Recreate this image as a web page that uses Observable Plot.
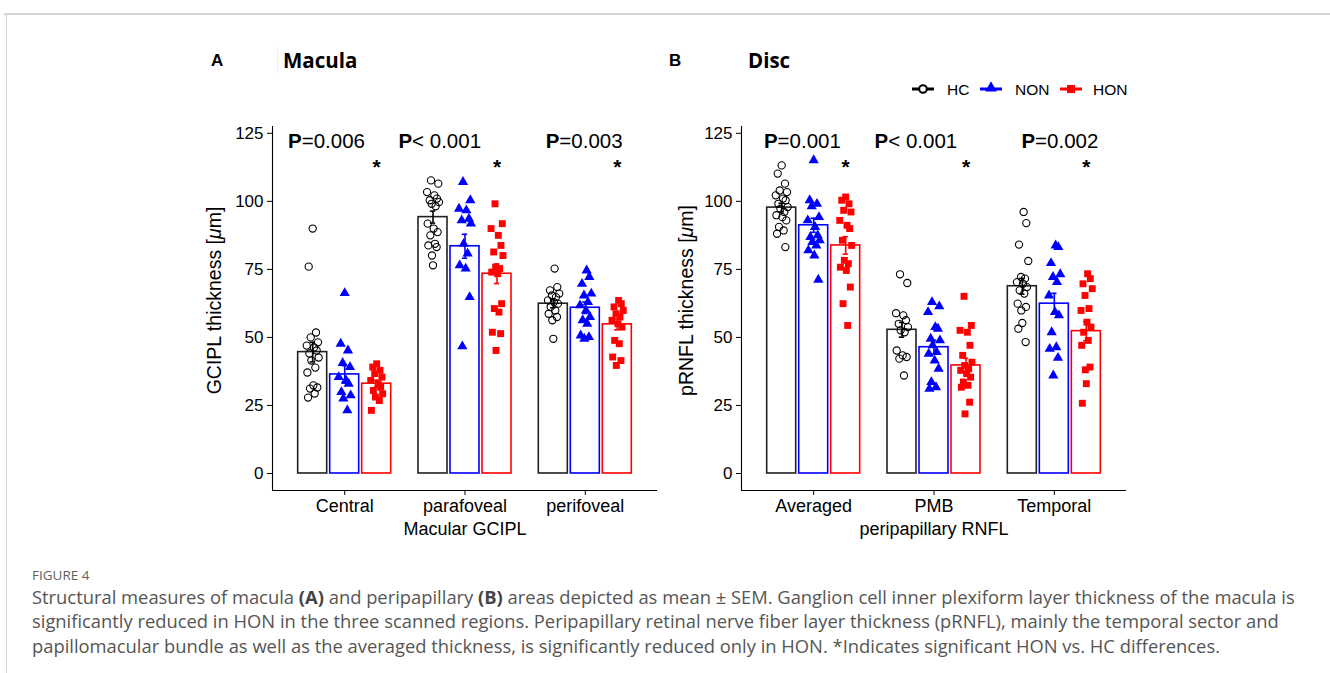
<!DOCTYPE html>
<html><head><meta charset="utf-8">
<script src="https://cdn.jsdelivr.net/npm/d3@7"></script>
<script src="https://cdn.jsdelivr.net/npm/@observablehq/plot@0.6"></script>
<style>
body{margin:0;background:#fff;width:1330px;height:673px;position:relative;overflow:hidden;font-family:"Liberation Sans",Arial,sans-serif;}
.abs{position:absolute;white-space:nowrap;}
#topline{left:4px;top:13px;width:1326px;height:2px;background:#d4d4d4;}
#leftline{left:6px;top:14px;width:1px;height:660px;background:#d4d4d4;}
.letter{font-family:"Liberation Sans",Arial,sans-serif;font-weight:bold;font-size:17px;line-height:20px;color:#000;}
.ptitle{font-family:"Open Sans",sans-serif;font-weight:bold;font-size:20.5px;line-height:24px;color:#000;}
.figlab{font-family:"Open Sans",sans-serif;font-size:13.5px;line-height:16px;color:#5f5f5f;}
.cap{font-family:"Open Sans",sans-serif;font-size:16px;line-height:20px;color:#555;}
.cap b{color:#444;}
</style></head>
<body>
<div id="topline" class="abs"></div>
<div id="leftline" class="abs"></div>
<div class="abs letter" style="left:211px;top:51px;">A</div>
<div class="abs" style="left:277px;top:47px;width:1px;height:26px;background:#eee;"></div>
<div class="abs ptitle" style="left:283px;top:48px;">Macula</div>
<div class="abs letter" style="left:669px;top:51px;">B</div>
<div class="abs ptitle" style="left:748px;top:48px;">Disc</div>
<div id="panelA" class="abs" style="left:190px;top:100px;"></div>
<div id="panelB" class="abs" style="left:659px;top:100px;"></div>
<div id="legend" class="abs" style="left:900px;top:77px;"></div>
<div class="abs figlab" style="left:32px;top:567px;">FIGURE 4</div>
<div id="cap1" class="abs cap" style="left:32px;top:587px;">Structural measures of macula <b>(A)</b> and peripapillary <b>(B)</b> areas depicted as mean ± SEM. Ganglion cell inner plexiform layer thickness of the macula is</div>
<div id="cap2" class="abs cap" style="left:32px;top:611px;">significantly reduced in HON in the three scanned regions. Peripapillary retinal nerve fiber layer thickness (pRNFL), mainly the temporal sector and</div>
<div id="cap3" class="abs cap" style="left:32px;top:636px;">papillomacular bundle as well as the averaged thickness, is significantly reduced only in HON. *Indicates significant HON vs. HC differences.</div>
<script>
// ---------- data ----------
const groups = ["HC", "NON", "HON"];
const categoriesA = ["Central", "parafoveal", "perifoveal"];
const categoriesB = ["Averaged", "PMB", "Temporal"];
const yTicks = [0, 25, 50, 75, 100, 125];

// means (per category) for each group
const meanA_HC  = [44.6, 94.2, 62.4];
const meanA_NON = [36.4, 83.5, 60.9];
const meanA_HON = [33.0, 73.4, 54.8];
const meanB_HC  = [97.7, 52.8, 68.8];
const meanB_NON = [91.2, 46.4, 62.4];
const meanB_HON = [83.8, 39.7, 52.3];

// SEM
const semA_HC  = [3.6, 2.2, 1.5];
const semA_NON = [3.2, 4.4, 2.1];
const semA_HON = [1.3, 3.6, 2.0];
const semB_HC  = [1.6, 2.7, 2.9];
const semB_NON = [2.6, 2.6, 3.8];
const semB_HON = [3.2, 2.6, 3.5];

// individual points
const ptsA_HC = [
  [90, 76, 51.8, 50, 48.2, 47, 46.3, 45.2, 44.1, 42.6, 41.5, 38.9, 37.1, 32.4, 31.6, 31.2, 29.4, 27.9],
  [107.7, 106.5, 103.4, 102.2, 101, 100.4, 99.7, 99.1, 98.2, 91.8, 90, 88.7, 87.5, 84.4, 83.8, 83.2, 80.1, 76.5],
  [75.3, 68.5, 67.3, 66.1, 65.4, 64.8, 63.6, 63, 62.4, 61.2, 59.9, 58.7, 57.5, 56.3, 49.5]
];
const ptsA_NON = [
  [66.3, 47.7, 45.2, 40.6, 39.1, 35.4, 34.2, 33, 29.9, 28.7, 27.5, 23.2],
  [107.1, 100.4, 97.3, 96.7, 93.6, 93, 91.8, 84.4, 80.8, 76.5, 75.3, 64.8, 46.7],
  [74.6, 72.2, 69.7, 66.1, 65.4, 63, 61.8, 59.9, 57.5, 56.3, 55, 50.7, 50.1, 49.5]
];
const ptsA_HON = [
  [40.3, 39.1, 37.9, 36.7, 35.4, 34.2, 33, 31.7, 30.5, 29.3, 28.1, 26.8, 23.2],
  [99.1, 91.8, 90, 87.5, 83.8, 81.4, 80.1, 75.8, 75.3, 74, 73.4, 62.4, 60.6, 59.3, 51.9, 51.4, 45.2],
  [63.6, 62.4, 61.2, 59.9, 58.7, 57.5, 56.3, 55, 53.8, 48.9, 47.7, 42.8, 41.5, 39.7]
];
const ptsB_HC = [
  [113.2, 110.2, 106.5, 104, 103.4, 102.2, 101, 100.4, 99.1, 97.9, 97.3, 96.1, 94.9, 94.2, 93, 90.6, 89.3, 88.1, 83.2],
  [73.2, 70, 58.9, 58.1, 56.3, 55, 53.8, 52.6, 51.9, 45.2, 43.4, 42.8, 42.2, 36],
  [96.1, 92, 84.1, 78.1, 72.2, 71.6, 70.3, 69.7, 68.5, 67.3, 66.1, 62.4, 61.2, 59.9, 55.3, 53.2, 48.3]
];
const ptsB_NON = [
  [115.1, 100.4, 99.1, 98.2, 94.2, 93, 90.6, 87.5, 86.9, 85.7, 85, 83.8, 82, 80.1, 71.2],
  [63, 61.4, 59.3, 53.8, 53.2, 49.5, 48.9, 47.1, 44.6, 44, 41.5, 38.5, 33.6, 31.7, 31.1],
  [83.8, 83.2, 77.3, 73.2, 72.2, 70.3, 65.4, 59.3, 58.1, 51.9, 46.4, 45.8, 42.5, 36]
];
const ptsB_HON = [
  [101.6, 100.4, 99.1, 96.7, 96.1, 93, 91.2, 90, 85.7, 83.8, 78.3, 77.1, 75.8, 74.6, 68.5, 62.4, 54.4],
  [65.1, 54.4, 52.6, 51.9, 47.1, 43.4, 40.9, 39.7, 38.5, 37.9, 36.7, 35.4, 33.6, 32.4, 31.7, 26.2, 21.9],
  [73.4, 71.6, 69.7, 67.9, 65.4, 60.6, 59.9, 55.6, 53.8, 51.9, 48.9, 47.1, 39.1, 38.1, 33, 25.8]
];

// p-value labels
const pValA = ["=0.006", "< 0.001", "=0.003"];
const pValB = ["=0.001", "< 0.001", "=0.002"];

// ---------- presentation ----------
const COLORS = ["#000000", "#0000ff", "#ff0000"];
const BAR_STROKE = ["#222222", "#0000ff", "#ff0000"];
const XD = [-0.6, 2.6], YD = [-6.25, 127.5];
const GOFF = [-0.266, 0, 0.266], BW = 0.241;
const JIT = [0, -0.6, 0.5, -0.3, 0.8, -0.9, 0.2, 0.6, -0.5, 0.9, -0.2, 0.4, -0.8, 0.1, 0.7, -0.4, 0.3, -0.7, 0.55, -0.15];
const JW = 0.055;

function panel(cats, means, sems, pts, pVals, pOff, yLabel, xLabel, yLabOff) {
  const bars = [];
  cats.forEach((c, ci) => groups.forEach((g, gi) =>
    bars.push({ci, gi, g, mean: means[gi][ci], sem: sems[gi][ci], cx: ci + GOFF[gi]})));
  const marks = [];
  groups.forEach((g, gi) => {
    marks.push(Plot.rect(bars.filter(d => d.gi === gi), {
      x1: d => d.cx - BW / 2, x2: d => d.cx + BW / 2, y1: 0, y2: "mean",
      fill: "white", stroke: BAR_STROKE[gi], strokeWidth: 1.6
    }));
  });
  groups.forEach((g, gi) => {
    const rows = [];
    pts[gi].forEach((arr, ci) => arr.forEach((v, i) =>
      rows.push({x: ci + GOFF[gi] + JIT[(i + ci * 3) % JIT.length] * JW, y: v})));
    if (gi === 0) marks.push(Plot.dot(rows, {x: "x", y: "y", symbol: "circle", r: 3.6, stroke: "#000", strokeWidth: 1.1, fill: "none"}));
    if (gi === 1) marks.push(Plot.dot(rows, {x: "x", y: "y", symbol: "triangle", r: 3.8, fill: COLORS[1], stroke: "none"}));
    if (gi === 2) marks.push(Plot.dot(rows, {x: "x", y: "y", symbol: "square", r: 3.9, fill: COLORS[2], stroke: "none"}));
  });
  groups.forEach((g, gi) => {
    const b = bars.filter(d => d.gi === gi);
    marks.push(Plot.ruleX(b, {x: "cx", y1: d => d.mean - d.sem, y2: d => d.mean + d.sem, stroke: COLORS[gi], strokeWidth: 1.6}));
    marks.push(Plot.ruleY(b, {y: d => d.mean + d.sem, x1: d => d.cx - 0.022, x2: d => d.cx + 0.022, stroke: COLORS[gi], strokeWidth: 1.6}));
    marks.push(Plot.ruleY(b, {y: d => d.mean - d.sem, x1: d => d.cx - 0.022, x2: d => d.cx + 0.022, stroke: COLORS[gi], strokeWidth: 1.6}));
  });
  const pRows = cats.map((c, ci) => ({ci, rest: pVals[ci], x: ci + pOff[ci]}));
  marks.push(Plot.text(pRows, {x: "x", y: 122, text: () => "P", textAnchor: "end", fontWeight: "bold", fontSize: 20.5, fill: "#000"}));
  marks.push(Plot.text(pRows, {x: "x", y: 122, text: "rest", textAnchor: "start", fontSize: 20.5, fill: "#000"}));
  marks.push(Plot.text(pRows, {x: d => d.ci + GOFF[2], y: 112.5, text: () => "*", fontSize: 21, fontWeight: "bold", fill: "#000"}));
  marks.push(Plot.ruleX([XD[0]], {stroke: "#000", strokeWidth: 1.1}));
  marks.push(Plot.ruleY([YD[0]], {stroke: "#000", strokeWidth: 1.1}));
  marks.push(Plot.axisY({ticks: yTicks, tickSize: 5, tickPadding: 4, fontSize: 17, label: yLabel,
    labelAnchor: "center", labelArrow: false, labelOffset: yLabOff}));
  marks.push(Plot.axisX({ticks: [0, 1, 2], tickFormat: i => cats[i], tickSize: 5, tickPadding: 4, fontSize: 18,
    label: xLabel, labelAnchor: "center", labelArrow: false, labelOffset: 44}));
  const svg = Plot.plot({
    width: 480, height: 445, marginLeft: 82, marginRight: 13, marginTop: 26, marginBottom: 55,
    x: {domain: XD, axis: null}, y: {domain: YD, axis: null},
    style: {fontFamily: "'Liberation Sans', Arial, sans-serif", fontSize: "18px", color: "#000", background: "transparent", overflow: "visible"},
    marks
  });
  svg.querySelectorAll("text").forEach(t => {
    const s = t.textContent;
    if (s.includes("μ")) {
      const i = s.indexOf("μ");
      t.textContent = "";
      t.setAttribute("font-size", "19.5");
      t.style.fontSize = "19.5px";
      t.setAttribute("dx", "8");
      const ns = "http://www.w3.org/2000/svg";
      const a = document.createElementNS(ns, "tspan"); a.textContent = s.slice(0, i);
      const m = document.createElementNS(ns, "tspan"); m.textContent = "μ"; m.setAttribute("font-style", "italic");
      const e = document.createElementNS(ns, "tspan"); e.textContent = s.slice(i + 1);
      t.append(a, m, e);
    }
  });
  return svg;
}

document.getElementById("panelA").append(panel(categoriesA,
  [meanA_HC, meanA_NON, meanA_HON], [semA_HC, semA_NON, semA_HON], [ptsA_HC, ptsA_NON, ptsA_HON],
  pValA, [-0.357, -0.44, -0.216], "GCIPL thickness [μm]", "Macular GCIPL", 65));
document.getElementById("panelB").append(panel(categoriesB,
  [meanB_HC, meanB_NON, meanB_HON], [semB_HC, semB_NON, semB_HON], [ptsB_HC, ptsB_NON, ptsB_HON],
  pValB, [-0.3, -0.38, -0.16], "pRNFL thickness [μm]", "peripapillary RNFL", 62));

// legend
(function () {
  const svg = d3.select("#legend").append("svg").attr("width", 240).attr("height", 24);
  const items = [{x: 12, t: 47}, {x: 80, t: 115}, {x: 160, t: 193}];
  groups.forEach((g, i) => {
    const it = items[i];
    svg.append("line").attr("x1", it.x).attr("x2", it.x + 22).attr("y1", 12).attr("y2", 12)
      .attr("stroke", COLORS[i]).attr("stroke-width", 3);
    const cx = it.x + 11;
    if (i === 0) svg.append("circle").attr("cx", cx).attr("cy", 12).attr("r", 3.8).attr("fill", "white").attr("stroke", "#000").attr("stroke-width", 2);
    if (i === 1) svg.append("path").attr("d", d3.symbol(d3.symbolTriangle, 60)()).attr("transform", `translate(${cx},11)`).attr("fill", COLORS[1]);
    if (i === 2) svg.append("rect").attr("x", cx - 4).attr("y", 8).attr("width", 8).attr("height", 8).attr("fill", COLORS[2]);
    svg.append("text").attr("x", it.t).attr("y", 17.5).text(g)
      .style("font-family", "'Liberation Sans', Arial, sans-serif").style("font-size", "15.5px").attr("fill", "#000");
  });
})();

// fit caption width
(function () {
  const c1 = document.getElementById("cap1");
  const w = c1.getBoundingClientRect().width;
  const fs = 16 * 1263 / w;
  document.querySelectorAll(".cap").forEach(el => el.style.fontSize = fs + "px");
})();
</script>
</body></html>
